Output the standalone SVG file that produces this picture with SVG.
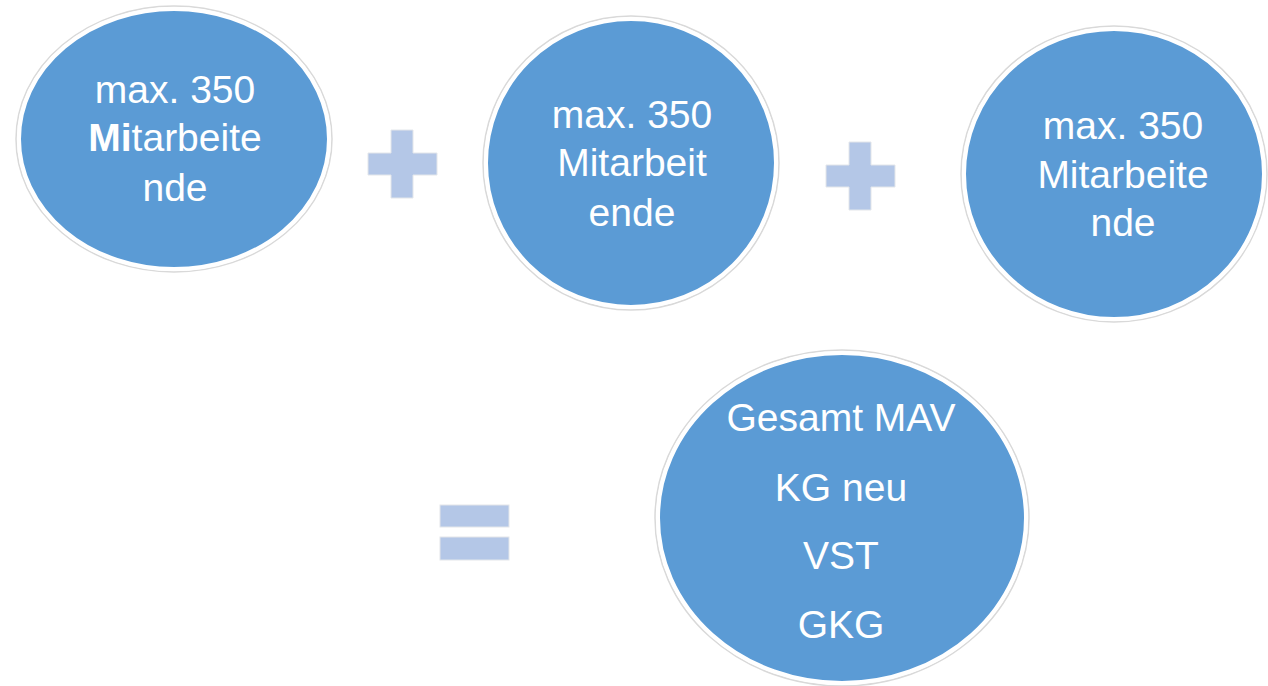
<svg xmlns="http://www.w3.org/2000/svg" width="1268" height="686" viewBox="0 0 1268 686">
<style>
.c{fill:#5B9BD5;stroke:#ffffff;stroke-width:4}
.o{fill:none;stroke:#d9d9d9;stroke-width:1.5}
.t{font-family:"Liberation Sans",Arial,sans-serif;font-size:39px;fill:#ffffff;text-anchor:middle}
.s{fill:#B4C7E7;stroke:#e3e6ea;stroke-width:1}
</style>
<rect width="1268" height="686" fill="#ffffff"/>
<g id="node1">
<ellipse cx="174" cy="139" rx="158" ry="133" class="o"/>
<ellipse cx="174" cy="139" rx="155" ry="130" class="c"/>
<text class="t" x="175" y="103">max. 350</text>
<text class="t" x="175" y="151"><tspan font-weight="bold">Mi</tspan>tarbeite</text>
<text class="t" x="175" y="201">nde</text>
</g>
<g id="plus1">
<path class="s" d="M391 130H413V153H437V175H413V198H391V175H368V153H391Z"/>
</g>
<g id="node2">
<ellipse cx="631" cy="163" rx="148" ry="147" class="o"/>
<ellipse cx="631" cy="163" rx="145" ry="144" class="c"/>
<text class="t" x="632" y="128">max. 350</text>
<text class="t" x="632" y="176">Mitarbeit</text>
<text class="t" x="632" y="226">ende</text>
</g>
<g id="plus2">
<path class="s" d="M849 142H871V165H895V187H871V210H849V187H826V165H849Z"/>
</g>
<g id="node3">
<ellipse cx="1114" cy="174" rx="153" ry="148" class="o"/>
<ellipse cx="1114" cy="174" rx="150" ry="145" class="c"/>
<text class="t" x="1123" y="139">max. 350</text>
<text class="t" x="1123" y="188">Mitarbeite</text>
<text class="t" x="1123" y="236">nde</text>
</g>
<g id="equals">
<rect class="s" x="440" y="505" width="69" height="22"/>
<rect class="s" x="440" y="537" width="69" height="23"/>
</g>
<g id="node4">
<ellipse cx="842" cy="518" rx="187" ry="168" class="o"/>
<ellipse cx="842" cy="518" rx="184" ry="165" class="c"/>
<text class="t" x="841" y="431">Gesamt MAV</text>
<text class="t" x="841" y="501">KG neu</text>
<text class="t" x="841" y="569">VST</text>
<text class="t" x="841" y="638">GKG</text>
</g>
<g id="connectors"></g>
</svg>
